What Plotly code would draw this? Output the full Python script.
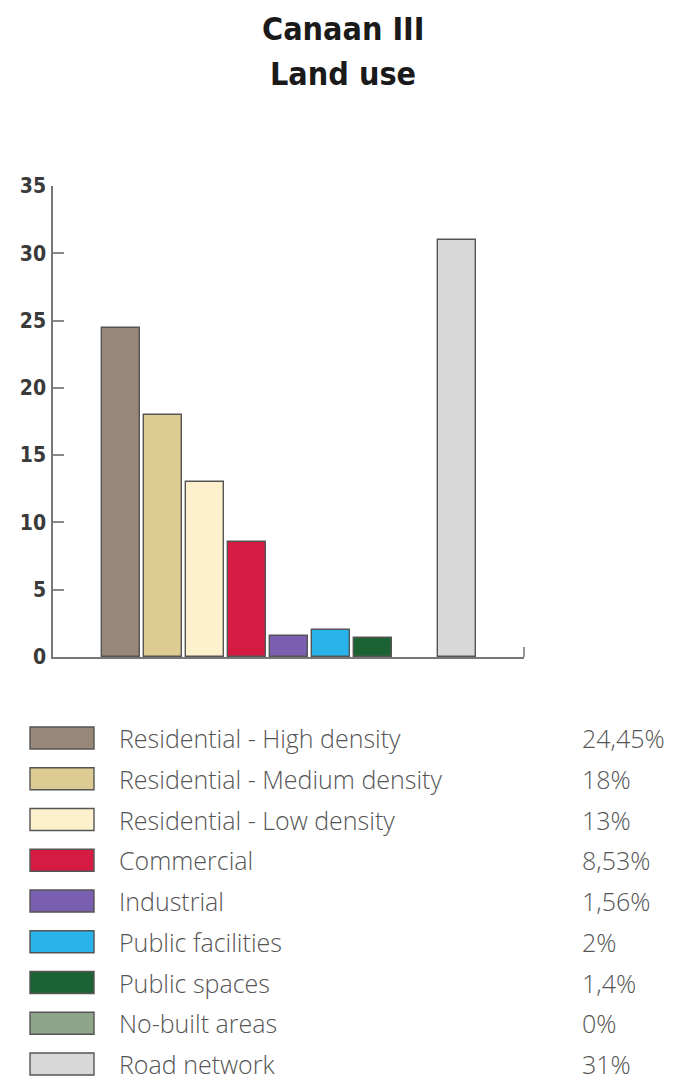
import plotly.graph_objects as go

# ---- data ----
categories = [
    "Residential - High density",
    "Residential - Medium density",
    "Residential - Low density",
    "Commercial",
    "Industrial",
    "Public facilities",
    "Public spaces",
    "No-built areas",
    "Road network",
]
values = [24.45, 18, 13, 8.53, 1.56, 2, 1.4, 0, 31]
colors = ["#978779", "#dccb93", "#fdf0cd", "#d61b43", "#7a5eaf",
          "#28b4ea", "#1b6332", "#8ea58a", "#d8d8d8"]
y_ticks = [0, 5, 10, 15, 20, 25, 30, 35]
title_lines = ["Canaan III", "Land use"]

# ---- layout geometry (px) ----
W, H = 686, 1080
PL, PR, PT, PB = 53, 524, 186, 657   # plot area
pw, ph = PR - PL, PB - PT

def px_x(x):
    return (x - PL) / pw

def px_y(y):
    return (PB - y) / ph

narrow = "Liberation Sans Narrow, DejaVu Sans Condensed, Arial Narrow, sans-serif"
light = "Open Sans, Noto Sans, sans-serif"

fig = go.Figure()
fig.add_trace(go.Bar(
    x=categories,
    y=values,
    width=0.906,
    marker=dict(color=colors,
                line=dict(color="#555555", width=[1.4 if v > 0 else 0 for v in values])),
    showlegend=False,
    hoverinfo="x+y",
))

shapes = []
annotations = []

# title
for i, t in enumerate(title_lines):
    annotations.append(dict(
        text="<b>%s</b>" % t, x=px_x(343), xref="paper", y=px_y(29 + 45 * i), yref="paper",
        xanchor="center", yanchor="middle", showarrow=False,
        font=dict(family=narrow, size=32, color="#1a1a1a"),
    ))

# right end tick of x axis
shapes.append(dict(type="line", xref="paper", yref="paper",
                   x0=1, x1=1, y0=0, y1=10 / ph,
                   line=dict(color="#777777", width=1.5)))

# legend rows
row0, step = 738, 40.75
for i, (cat, v, c) in enumerate(zip(categories, values, colors)):
    cy = row0 + step * i
    shapes.append(dict(type="rect", xref="paper", yref="paper",
                       x0=px_x(30), x1=px_x(94), y0=px_y(cy - 11), y1=px_y(cy + 11),
                       fillcolor=c, line=dict(color="#555555", width=1.4)))
    annotations.append(dict(
        text=cat, x=px_x(117), y=px_y(cy), xref="paper", yref="paper",
        xanchor="left", yanchor="middle", showarrow=False,
        font=dict(family=light, size=25, color="#555555", weight=300),
    ))
    annotations.append(dict(
        text=("%g" % v).replace(".", ",") + "%", x=px_x(580), y=px_y(cy),
        xref="paper", yref="paper", xanchor="left", yanchor="middle", showarrow=False,
        font=dict(family=light, size=25, color="#555555", weight=300),
    ))

fig.update_layout(
    width=W, height=H,
    margin=dict(l=PL, r=W - PR, t=PT, b=H - PB, pad=0),
    paper_bgcolor="white", plot_bgcolor="white",
    bargap=0,
    xaxis=dict(range=[-1.621, 9.609], showticklabels=False, ticks="",
               showgrid=False, zeroline=False, showline=True,
               linecolor="#777777", linewidth=1.5, fixedrange=True),
    yaxis=dict(range=[0, 35], tickvals=y_ticks,
               ticktext=["<b>%d</b>" % t for t in y_ticks],
               ticks="inside", ticklen=11,
               tickcolor="#888888", tickwidth=1.5, showgrid=False, zeroline=False,
               showline=True, linecolor="#777777", linewidth=1.5,
               tickfont=dict(family=narrow, size=21, color="#3a3a3a"),
               ticklabelstandoff=1, fixedrange=True),
    shapes=shapes,
    annotations=annotations,
)

fig.write_html("out.html")
